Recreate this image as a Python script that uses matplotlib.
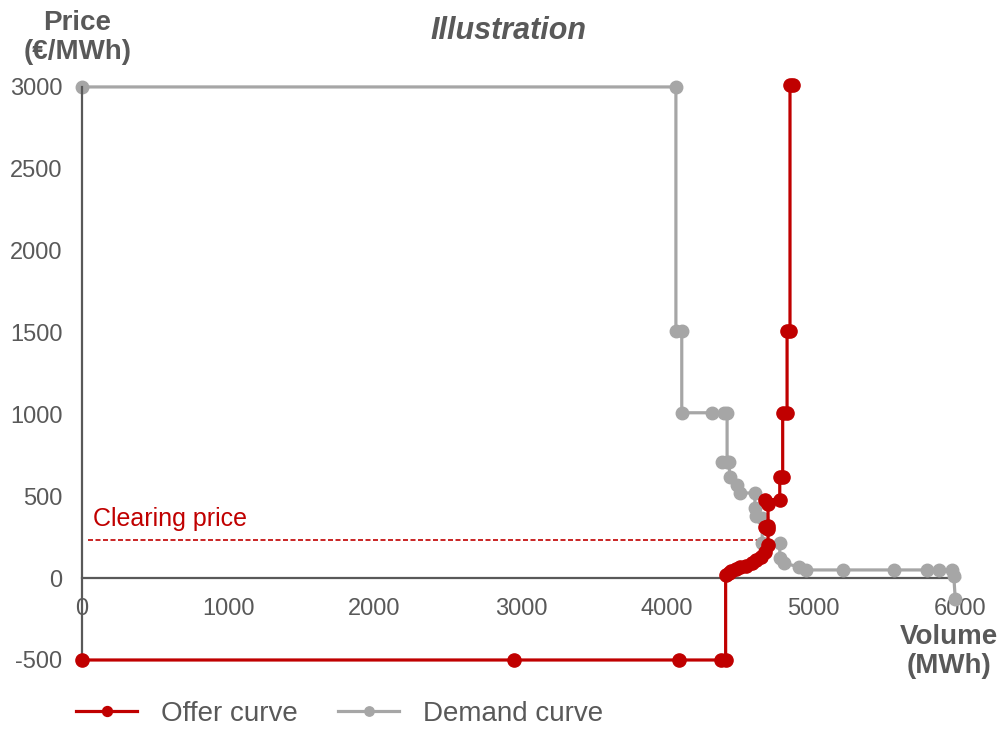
import matplotlib
matplotlib.use("Agg")
import matplotlib.pyplot as plt

plt.rcParams["font.family"] = ["Liberation Sans", "DejaVu Sans"]

RED = "#C00000"
GREY = "#A6A6A6"
DARK = "#595959"

# offer curve (volume MWh, price EUR/MWh)
offer_x = [0, 2950, 4080, 4370, 4400, 4400, 4420, 4440, 4470, 4500, 4540, 4580,
           4610, 4640, 4670, 4690, 4690, 4670, 4690, 4690, 4670, 4770, 4770,
           4790, 4790, 4820, 4820, 4840, 4840, 4860]
offer_y = [-500, -500, -500, -500, -500, 20, 30, 45, 55, 65, 75, 90,
           110, 130, 160, 200, 300, 310, 320, 450, 480, 480, 620,
           620, 1010, 1010, 1510, 1510, 3010, 3010]

# demand curve
demand_x = [0, 4060, 4060, 4100, 4100, 4310, 4390, 4410, 4410, 4375, 4420, 4430,
            4480, 4500, 4600, 4600, 4610, 4650, 4650, 4770, 4770, 4800, 4900,
            4950, 5200, 5550, 5780, 5860, 5950, 5960, 5970]
demand_y = [3000, 3000, 1510, 1510, 1010, 1010, 1010, 1010, 710, 710, 710, 620,
            570, 520, 520, 430, 380, 370, 215, 215, 120, 90, 70,
            50, 50, 50, 50, 50, 50, 10, -130]

clearing_price = 232
clearing_volume = 4620
x_ticks = [0, 1000, 2000, 3000, 4000, 5000, 6000]
y_ticks = [-500, 0, 500, 1000, 1500, 2000, 2500, 3000]

fig = plt.figure(figsize=(10.03, 7.30), dpi=100)
ax = fig.add_axes([0.0818, 0.0959, 0.875, 0.785])

ax.plot(offer_x, offer_y, color=RED, lw=2.3, marker="o", ms=9.5,
        label="Offer curve", clip_on=False, zorder=3)
ax.plot(demand_x, demand_y, color=GREY, lw=2.3, marker="o", ms=9,
        label="Demand curve", clip_on=False, zorder=2)

ax.plot([40, clearing_volume], [clearing_price, clearing_price], color=RED,
        lw=1.2, ls=(0, (3, 1.5)), zorder=1)
ax.text(75, 290, "Clearing price", color=RED, fontsize=18, ha="left", va="bottom")

ax.set_xlim(0, 6000)
ax.set_ylim(-500, 3000)
ax.set_xticks(x_ticks)
ax.set_yticks(y_ticks)
ax.set_yticklabels([str(v) for v in y_ticks])
ax.tick_params(length=0, colors=DARK, labelsize=17)
ax.tick_params(axis="x", pad=14)
ax.tick_params(axis="y", pad=14)

ax.spines["top"].set_visible(False)
ax.spines["right"].set_visible(False)
ax.spines["bottom"].set_position(("data", 0))
ax.spines["bottom"].set_color(DARK)
ax.spines["bottom"].set_linewidth(1.6)
ax.spines["left"].set_color(DARK)
ax.spines["left"].set_linewidth(1.6)
ax.spines["bottom"].set_zorder(1)

fig.text(0.507, 0.957, "Illustration", fontsize=22, fontweight="bold",
         fontstyle="italic", color=DARK, ha="center", va="center")
fig.text(0.077, 0.948, "Price\n(€/MWh)", fontsize=20, fontweight="bold",
         color=DARK, ha="center", va="center", linespacing=1.15)
fig.text(0.946, 0.108, "Volume\n(MWh)", fontsize=20, fontweight="bold",
         color=DARK, ha="center", va="center", linespacing=1.15)

fig.legend(loc="center left", bbox_to_anchor=(0.076, 0.022), ncol=2, frameon=False,
           fontsize=20, handlelength=2.2, columnspacing=1.45, handletextpad=0.85,
           borderpad=0, borderaxespad=0, labelcolor=DARK, markerscale=0.75)

fig.savefig("out.png", dpi=100)
